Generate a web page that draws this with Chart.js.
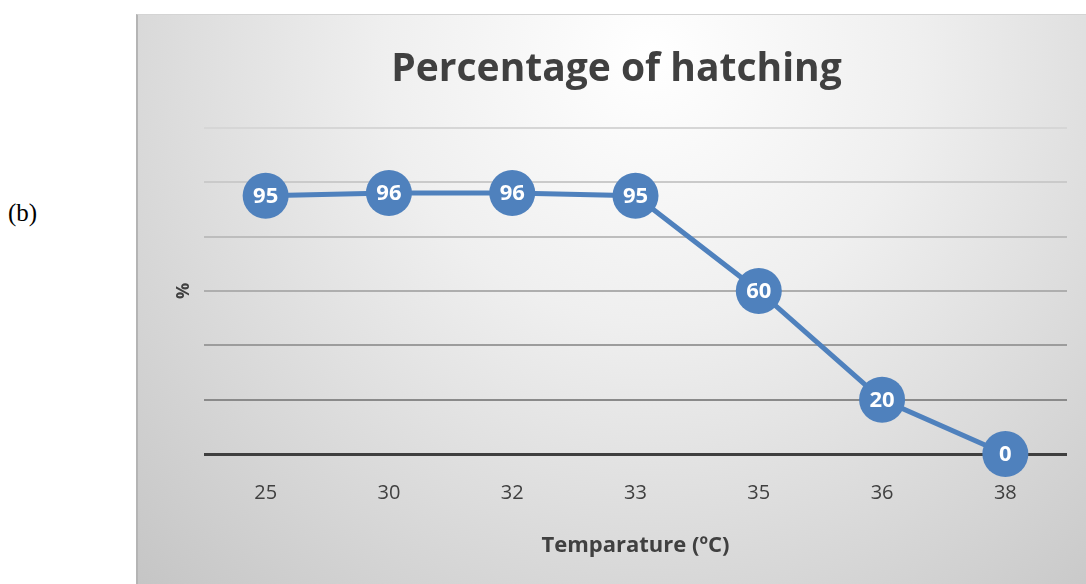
<!DOCTYPE html>
<html>
<head>
<meta charset="utf-8">
<script src="https://cdn.jsdelivr.net/npm/chart.js@4/dist/chart.umd.min.js"></script>
<style>
  html, body { margin: 0; padding: 0; background: #ffffff; }
  body { width: 1086px; height: 584px; position: relative; overflow: hidden; }
  #tag { position: absolute; left: 8px; top: 199px; font: 25px "Liberation Serif", "DejaVu Serif", serif; color: #000; }
  #frame { position: absolute; left: 136px; top: 14px; width: 950px; height: 570px;
           border-left: 2px solid #b4b4b4; border-top: 1px solid #d4d4d4; box-sizing: border-box; }
  #frame canvas { display: block; }
</style>
</head>
<body>
<div id="tag">(b)</div>
<div id="frame"><canvas id="c" width="948" height="569"></canvas></div>
<script>
// Hatching percentage by incubation temperature
const temperatures = ['25', '30', '32', '33', '35', '36', '38'];
const hatchingPct = [95, 96, 96, 95, 60, 20, 0];
const yTicks = [0, 20, 40, 60, 80, 100, 120];

const FONT = '"Open Sans", "Liberation Sans", sans-serif';
const BLUE = '#4f81bd';
const TEXT = '#404040';

// grey gridlines fading lighter toward the top
const gridShades = ['#3f3f3f', '#8a8a8a', '#9c9c9c', '#aeaeae', '#bdbdbd', '#cacaca', '#d6d6d6'];

const backdrop = {
  id: 'backdrop',
  beforeDraw(chart) {
    const { ctx, width, height } = chart;
    ctx.save();
    const g = ctx.createRadialGradient(width * 0.54, 40, 0, width * 0.54, 40, 760);
    g.addColorStop(0, '#ffffff');
    g.addColorStop(0.35, '#efefef');
    g.addColorStop(1, '#c3c3c3');
    ctx.fillStyle = g;
    ctx.fillRect(0, 0, width, height);
    ctx.restore();
  }
};

// value labels written inside each marker
const pointValues = {
  id: 'pointValues',
  afterDatasetsDraw(chart) {
    const { ctx } = chart;
    const meta = chart.getDatasetMeta(0);
    const data = chart.data.datasets[0].data;
    ctx.save();
    ctx.fillStyle = '#ffffff';
    ctx.font = 'bold 22px ' + FONT;
    ctx.textAlign = 'center';
    ctx.textBaseline = 'middle';
    meta.data.forEach((pt, i) => {
      ctx.fillText(String(data[i]), pt.x, pt.y + 1);
    });
    ctx.restore();
  }
};

new Chart(document.getElementById('c'), {
  type: 'line',
  data: {
    labels: temperatures,
    datasets: [{
      data: hatchingPct,
      borderColor: BLUE,
      backgroundColor: BLUE,
      borderWidth: 5,
      pointRadius: 23,
      pointHoverRadius: 23,
      pointBackgroundColor: BLUE,
      pointBorderWidth: 0,
      tension: 0,
      clip: false
    }]
  },
  plugins: [backdrop, pointValues],
  options: {
    responsive: false,
    animation: false,
    events: [],
    layout: { autoPadding: false, padding: { left: 28, right: 19, top: 0, bottom: 0 } },
    plugins: {
      legend: { display: false },
      tooltip: { enabled: false },
      title: {
        display: true,
        text: 'Percentage of hatching',
        color: TEXT,
        font: { family: FONT, size: 39, weight: 'bold', lineHeight: 1.2 },
        padding: { top: 31, bottom: 35 }
      }
    },
    scales: {
      x: {
        offset: true,
        grid: { display: false, drawTicks: false },
        border: { display: false },
        ticks: { color: TEXT, font: { family: FONT, size: 20 }, padding: 27 },
        title: {
          display: true,
          text: 'Temparature (ºC)',
          color: TEXT,
          font: { family: FONT, size: 22, weight: 'bold', lineHeight: 1.2 },
          padding: { top: 0, bottom: 25 }
        },
        afterFit(scale) {
          scale.height = 130;
          scale.paddingLeft = 0;
          scale.paddingRight = 0;
        }
      },
      y: {
        min: 0,
        max: 120,
        afterBuildTicks(scale) { scale.ticks = yTicks.map(v => ({ value: v })); },
        grid: {
          drawTicks: false,
          color: ctx => gridShades[ctx.index] || '#cccccc',
          lineWidth: ctx => (ctx.index === 0 ? 3 : 2)
        },
        border: { display: false },
        ticks: { display: false },
        title: {
          display: true,
          text: '%',
          color: TEXT,
          font: { family: FONT, size: 18, weight: 'bold', lineHeight: 1.2 },
          padding: { top: 7, bottom: 0 }
        },
        afterFit(scale) { scale.width = 38; }
      }
    }
  }
});
</script>
</body>
</html>
